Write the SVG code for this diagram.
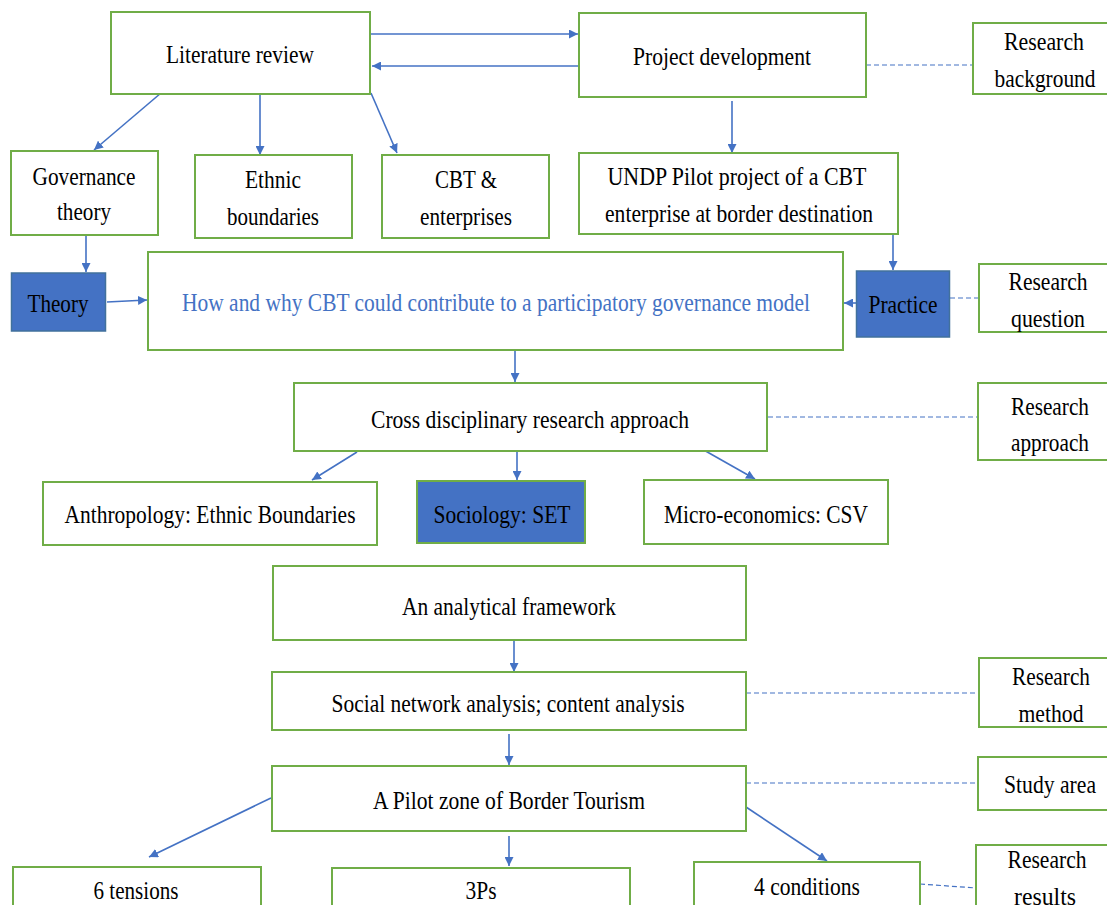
<svg xmlns="http://www.w3.org/2000/svg" width="1107" height="905" viewBox="0 0 1107 905">
  <defs>
    <style>
      .box { fill: #ffffff; stroke: #70AD47; stroke-width: 2; }
      .fill { fill: #4472C4; stroke: #41719C; stroke-width: 1.5; }
      .fill-g { fill: #4472C4; stroke: #70AD47; stroke-width: 2; }
      .t { font-size: 25px; fill: #000000; text-anchor: middle; }
      .q { fill: #4472C4; }
      .arrow { stroke: #4472C4; stroke-width: 1.6; fill: none; marker-end: url(#head); }
      .dash { stroke: #4472C4; stroke-width: 1.2; fill: none; stroke-dasharray: 5 3; }
    </style>
    <marker id="head" viewBox="0 0 10 10" refX="10" refY="5" markerWidth="9" markerHeight="9" markerUnits="userSpaceOnUse" orient="auto">
      <path d="M0,0 L10,5 L0,10 Z" fill="#4472C4"/>
    </marker>
  </defs>

  <!-- connectors -->
  <g id="connectors">
    <line class="arrow" x1="370" y1="34" x2="578" y2="34"/>
    <line class="arrow" x1="579" y1="66" x2="372" y2="66"/>
    <line class="dash" x1="866" y1="65" x2="973" y2="65"/>
    <line class="arrow" x1="161" y1="93" x2="94" y2="150"/>
    <line class="arrow" x1="260" y1="94" x2="260" y2="155"/>
    <line class="arrow" x1="371" y1="93" x2="397" y2="153"/>
    <line class="arrow" x1="732" y1="101" x2="732" y2="153"/>
    <line class="arrow" x1="86" y1="236" x2="86" y2="272"/>
    <line class="arrow" x1="893" y1="234" x2="893" y2="270"/>
    <line class="arrow" x1="107" y1="302" x2="147" y2="300"/>
    <line class="arrow" x1="856" y1="303" x2="844" y2="303"/>
    <line class="dash" x1="950" y1="298" x2="979" y2="298"/>
    <line class="arrow" x1="515" y1="345" x2="515" y2="382"/>
    <line class="dash" x1="768" y1="417" x2="977" y2="417"/>
    <line class="arrow" x1="357" y1="452" x2="312" y2="480"/>
    <line class="arrow" x1="517" y1="452" x2="517" y2="480"/>
    <line class="arrow" x1="702" y1="449" x2="755" y2="479"/>
    <line class="arrow" x1="514" y1="637" x2="514" y2="672"/>
    <line class="dash" x1="746" y1="693" x2="979" y2="693"/>
    <line class="arrow" x1="509" y1="734" x2="509" y2="765"/>
    <line class="dash" x1="746" y1="783" x2="977" y2="783"/>
    <line class="arrow" x1="271" y1="798" x2="149" y2="857"/>
    <line class="arrow" x1="509" y1="836" x2="509" y2="866"/>
    <line class="arrow" x1="746" y1="807" x2="827" y2="861"/>
    <line class="dash" x1="920" y1="884" x2="976" y2="888"/>
  </g>

  <g font-family="Times New Roman, Liberation Serif, Tinos, DejaVu Serif, serif">
  <!-- top row -->
  <g id="literature-review">
    <rect class="box" x="111" y="12" width="259" height="82"/>
    <text class="t" x="240" y="63" textLength="148" lengthAdjust="spacingAndGlyphs">Literature review</text>
  </g>
  <g id="project-development">
    <rect class="box" x="579" y="13" width="287" height="84"/>
    <text class="t" x="722" y="65" textLength="178" lengthAdjust="spacingAndGlyphs">Project development</text>
  </g>
  <g id="research-background">
    <rect class="box" x="973" y="23" width="145" height="71"/>
    <text class="t" x="1044" y="50" textLength="80" lengthAdjust="spacingAndGlyphs">Research</text>
    <text class="t" x="1045" y="87" textLength="101" lengthAdjust="spacingAndGlyphs">background</text>
  </g>

  <!-- literature branches -->
  <g id="governance-theory">
    <rect class="box" x="11" y="151" width="147" height="84"/>
    <text class="t" x="84" y="185" textLength="103" lengthAdjust="spacingAndGlyphs">Governance</text>
    <text class="t" x="84" y="220" textLength="54" lengthAdjust="spacingAndGlyphs">theory</text>
  </g>
  <g id="ethnic-boundaries">
    <rect class="box" x="195" y="155" width="157" height="83"/>
    <text class="t" x="273" y="188" textLength="56" lengthAdjust="spacingAndGlyphs">Ethnic</text>
    <text class="t" x="273" y="225" textLength="92" lengthAdjust="spacingAndGlyphs">boundaries</text>
  </g>
  <g id="cbt-enterprises">
    <rect class="box" x="382" y="155" width="167" height="83"/>
    <text class="t" x="466" y="188" textLength="62" lengthAdjust="spacingAndGlyphs">CBT &amp;</text>
    <text class="t" x="466" y="225" textLength="92" lengthAdjust="spacingAndGlyphs">enterprises</text>
  </g>
  <g id="undp-pilot">
    <rect class="box" x="579" y="153" width="319" height="81"/>
    <text class="t" x="737" y="185" textLength="259" lengthAdjust="spacingAndGlyphs">UNDP Pilot project of a CBT</text>
    <text class="t" x="739" y="222" textLength="268" lengthAdjust="spacingAndGlyphs">enterprise at border destination</text>
  </g>

  <!-- research question row -->
  <g id="theory">
    <rect class="fill" x="11.5" y="273" width="94" height="58"/>
    <text class="t" x="58" y="312" textLength="61" lengthAdjust="spacingAndGlyphs">Theory</text>
  </g>
  <g id="research-question-main">
    <rect class="box" x="148" y="252" width="695" height="98"/>
    <text class="t q" x="496" y="311" textLength="628" lengthAdjust="spacingAndGlyphs">How and why CBT could contribute to a participatory governance model</text>
  </g>
  <g id="practice">
    <rect class="fill" x="856.5" y="271" width="93" height="66"/>
    <text class="t" x="903" y="313" textLength="69" lengthAdjust="spacingAndGlyphs">Practice</text>
  </g>
  <g id="research-question">
    <rect class="box" x="979" y="264" width="140" height="68"/>
    <text class="t" x="1048" y="290" textLength="79" lengthAdjust="spacingAndGlyphs">Research</text>
    <text class="t" x="1048" y="327" textLength="74" lengthAdjust="spacingAndGlyphs">question</text>
  </g>

  <!-- research approach -->
  <g id="cross-disciplinary">
    <rect class="box" x="294" y="383" width="473" height="68"/>
    <text class="t" x="530" y="428" textLength="318" lengthAdjust="spacingAndGlyphs">Cross disciplinary research approach</text>
  </g>
  <g id="research-approach">
    <rect class="box" x="978" y="383" width="140" height="77"/>
    <text class="t" x="1050" y="415" textLength="78" lengthAdjust="spacingAndGlyphs">Research</text>
    <text class="t" x="1050" y="451" textLength="78" lengthAdjust="spacingAndGlyphs">approach</text>
  </g>
  <g id="anthropology">
    <rect class="box" x="43" y="482" width="334" height="63"/>
    <text class="t" x="210" y="523" textLength="291" lengthAdjust="spacingAndGlyphs">Anthropology: Ethnic Boundaries</text>
  </g>
  <g id="sociology">
    <rect class="fill-g" x="417" y="481" width="168" height="62"/>
    <text class="t" x="502" y="523" textLength="137" lengthAdjust="spacingAndGlyphs">Sociology: SET</text>
  </g>
  <g id="micro-economics">
    <rect class="box" x="644" y="480" width="244" height="64"/>
    <text class="t" x="766" y="523" textLength="204" lengthAdjust="spacingAndGlyphs">Micro-economics: CSV</text>
  </g>

  <!-- framework and method -->
  <g id="analytical-framework">
    <rect class="box" x="273" y="566" width="473" height="74"/>
    <text class="t" x="509" y="615" textLength="214" lengthAdjust="spacingAndGlyphs">An analytical framework</text>
  </g>
  <g id="network-analysis">
    <rect class="box" x="272" y="672" width="474" height="58"/>
    <text class="t" x="508" y="712" textLength="353" lengthAdjust="spacingAndGlyphs">Social network analysis; content analysis</text>
  </g>
  <g id="research-method">
    <rect class="box" x="979" y="658" width="140" height="69"/>
    <text class="t" x="1051" y="685" textLength="78" lengthAdjust="spacingAndGlyphs">Research</text>
    <text class="t" x="1051" y="722" textLength="65" lengthAdjust="spacingAndGlyphs">method</text>
  </g>
  <g id="pilot-zone">
    <rect class="box" x="272" y="766" width="474" height="65"/>
    <text class="t" x="509" y="809" textLength="272" lengthAdjust="spacingAndGlyphs">A Pilot zone of Border Tourism</text>
  </g>
  <g id="study-area">
    <rect class="box" x="978" y="757" width="140" height="53"/>
    <text class="t" x="1050" y="793" textLength="92" lengthAdjust="spacingAndGlyphs">Study area</text>
  </g>

  <!-- results -->
  <g id="six-tensions">
    <rect class="box" x="13" y="867" width="248" height="60"/>
    <text class="t" x="136" y="899" textLength="85" lengthAdjust="spacingAndGlyphs">6 tensions</text>
  </g>
  <g id="three-ps">
    <rect class="box" x="332" y="868" width="298" height="60"/>
    <text class="t" x="481" y="899" textLength="31" lengthAdjust="spacingAndGlyphs">3Ps</text>
  </g>
  <g id="four-conditions">
    <rect class="box" x="694" y="862" width="226" height="60"/>
    <text class="t" x="807" y="895" textLength="106" lengthAdjust="spacingAndGlyphs">4 conditions</text>
  </g>
  <g id="research-results">
    <rect class="box" x="976" y="845" width="140" height="80"/>
    <text class="t" x="1047" y="868" textLength="79" lengthAdjust="spacingAndGlyphs">Research</text>
    <text class="t" x="1045" y="905" textLength="62" lengthAdjust="spacingAndGlyphs">results</text>
  </g>
  </g>
</svg>
